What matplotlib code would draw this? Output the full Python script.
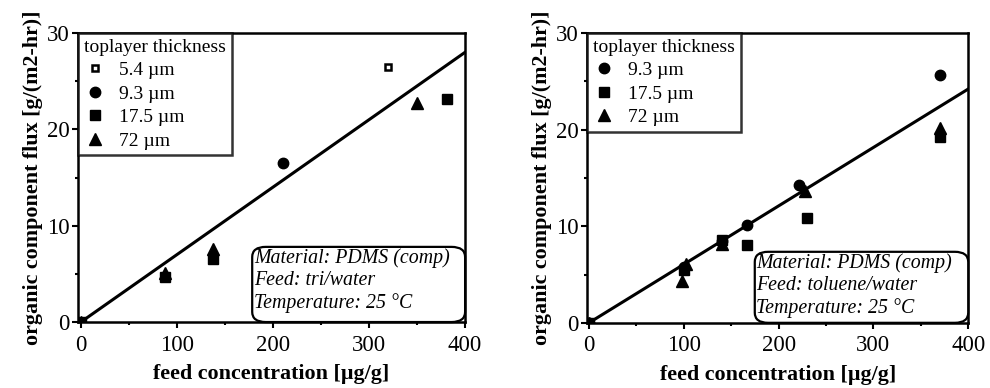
import matplotlib.pyplot as plt
from matplotlib.patches import FancyBboxPatch
from matplotlib.ticker import MultipleLocator

plt.rcParams['font.family'] = ['Liberation Serif', 'DejaVu Serif']

# left panel: tri/water
tri_54_x = [320]
tri_54_y = [26.5]
tri_93_x = [210]
tri_93_y = [16.5]
tri_175_x = [0, 88, 138, 381]
tri_175_y = [0, 4.7, 6.5, 23.1]
tri_72_x = [0, 88, 138, 350]
tri_72_y = [0, 5.1, 7.6, 22.7]
tri_fit_x = [0, 400]
tri_fit_y = [0, 28.0]

# right panel: toluene/water
tol_93_x = [0, 100, 140, 167, 222, 370]
tol_93_y = [0, 5.8, 8.5, 10.1, 14.3, 25.6]
tol_175_x = [0, 100, 140, 167, 230, 370]
tol_175_y = [0, 5.5, 8.6, 8.1, 10.8, 19.2]
tol_72_x = [0, 98, 102, 140, 228, 370]
tol_72_y = [0, 4.3, 6.1, 8.2, 13.6, 20.2]
tol_fit_x = [0, 400]
tol_fit_y = [0, 24.2]

fig = plt.figure(figsize=(9.9, 3.88), dpi=100)
ax1 = fig.add_axes([0.0788, 0.170, 0.391, 0.745])
ax2 = fig.add_axes([0.593, 0.168, 0.385, 0.747])


def style(ax, xmin):
    ax.set_xlim(xmin, 400)
    ax.set_ylim(0, 30)
    ax.xaxis.set_major_locator(MultipleLocator(100))
    ax.xaxis.set_minor_locator(MultipleLocator(50))
    ax.yaxis.set_major_locator(MultipleLocator(10))
    ax.yaxis.set_minor_locator(MultipleLocator(5))
    ax.tick_params(which='major', direction='out', length=4, width=1.5, labelsize=16.5)
    ax.tick_params(axis='x', which='major', pad=5)
    ax.tick_params(axis='y', which='major', pad=2)
    ax.tick_params(which='minor', direction='out', length=2.5, width=1.5)
    for s in ax.spines.values():
        s.set_linewidth(1.8)
    ax.set_xlabel('feed concentration [µg/g]', fontsize=15.8, fontweight='bold', labelpad=6)
    ax.set_ylabel('organic component flux [g/(m2-hr)]', fontsize=15.8, fontweight='bold', labelpad=3)


def note(ax, x0, y0, w, h, lines):
    box = FancyBboxPatch((x0, y0), w, h, transform=ax.transAxes,
                         boxstyle='round,pad=0,rounding_size=0.035',
                         fc='white', ec='black', lw=1.6, zorder=4, clip_on=False)
    ax.add_patch(box)
    ax.text(x0 + 0.004, y0 + h - 0.005, '\n'.join(lines), transform=ax.transAxes,
            ha='left', va='top', fontsize=14.3, style='italic', linespacing=1.2, zorder=5)


def legend(ax):
    leg = ax.legend(title='toplayer thickness', loc='upper left', bbox_to_anchor=(0, 1),
                    frameon=True, fancybox=False, fontsize=14, title_fontsize=14,
                    handletextpad=0.7, handlelength=1.1, borderpad=0.3, labelspacing=0.3,
                    borderaxespad=0, alignment='left')
    leg.get_frame().set_edgecolor('black')
    leg.get_frame().set_linewidth(1.8)


# left
style(ax1, -3)
ax1.plot(tri_fit_x, tri_fit_y, color='black', lw=2.2, zorder=2)
ax1.plot(tri_54_x, tri_54_y, 's', mfc='white', mec='black', mew=1.8, ms=5, ls='none', label='5.4 µm', zorder=3)
ax1.plot(tri_93_x, tri_93_y, 'o', color='black', ms=7.5, ls='none', label='9.3 µm', zorder=3)
ax1.plot(tri_175_x, tri_175_y, 's', color='black', ms=7, ls='none', label='17.5 µm', zorder=3)
ax1.plot(tri_72_x, tri_72_y, '^', color='black', ms=8, ls='none', label='72 µm', zorder=3)
legend(ax1)
note(ax1, 0.45, 0.0, 0.55, 0.26, ['Material: PDMS (comp)', 'Feed: tri/water', 'Temperature: 25 °C'])

# right
style(ax2, -2)
ax2.plot(tol_fit_x, tol_fit_y, color='black', lw=2.2, zorder=2)
ax2.plot(tol_93_x, tol_93_y, 'o', color='black', ms=7.5, ls='none', label='9.3 µm', zorder=3)
ax2.plot(tol_175_x, tol_175_y, 's', color='black', ms=7, ls='none', label='17.5 µm', zorder=3)
ax2.plot(tol_72_x, tol_72_y, '^', color='black', ms=8, ls='none', label='72 µm', zorder=3)
legend(ax2)
note(ax2, 0.44, 0.0, 0.56, 0.245, ['Material: PDMS (comp)', 'Feed: toluene/water', 'Temperature: 25 °C'])

fig.savefig('out.png', dpi=100, facecolor='white')
